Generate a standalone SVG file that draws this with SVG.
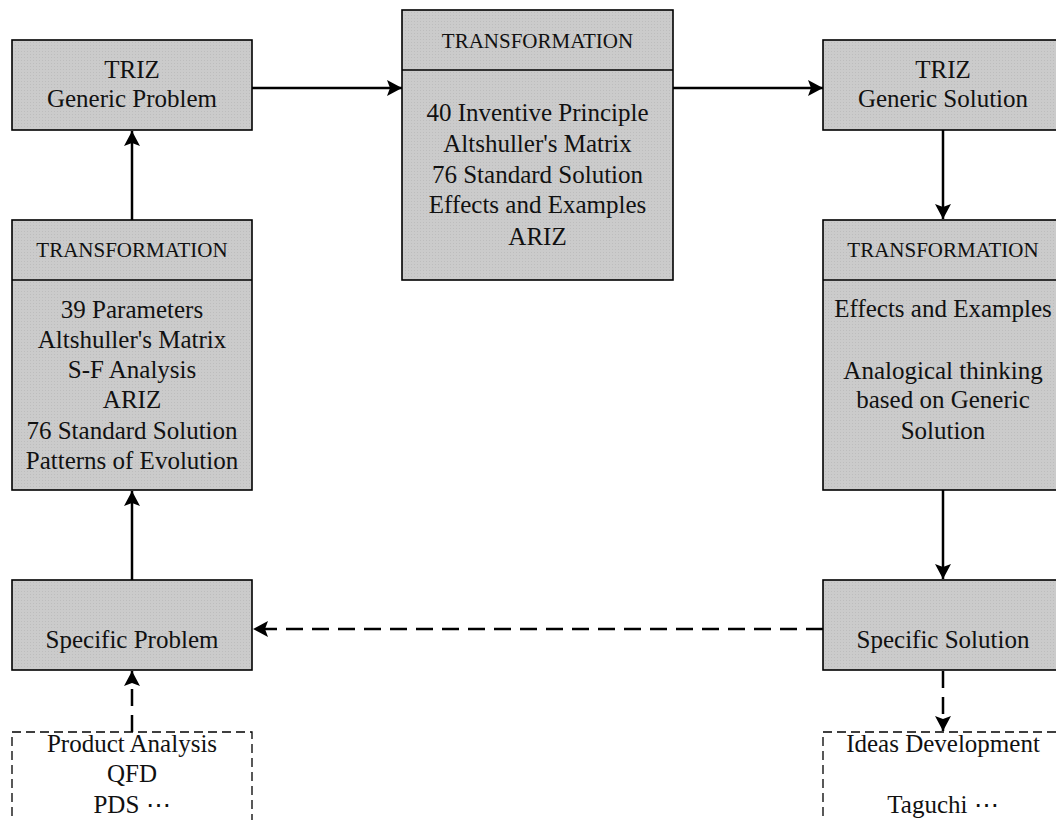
<svg xmlns="http://www.w3.org/2000/svg" width="1056" height="820" viewBox="0 0 1056 820">
<defs>
<pattern id="tex" width="3" height="3" patternUnits="userSpaceOnUse">
<rect width="3" height="3" fill="#cbcbcb"/>
<rect width="1" height="1" fill="#bdbdbd"/>
</pattern>
<marker id="ah" viewBox="0 0 15 16" refX="15" refY="8" markerWidth="15" markerHeight="16" markerUnits="userSpaceOnUse" orient="auto">
<path d="M0,0 L15,8 L0,16 L3,8 Z" fill="#000"/>
</marker>
<style>
.box{fill:url(#tex);stroke:#000;stroke-width:1.6}
.dbox{fill:none;stroke:#000;stroke-width:1.3;stroke-dasharray:9 5}
.t{font-family:"Liberation Serif","Times New Roman",serif;font-size:25px;fill:#111;text-anchor:middle}
.h{font-family:"Liberation Serif","Times New Roman",serif;font-size:21px;fill:#111;text-anchor:middle}
.c{stroke:#000;stroke-width:2.5;fill:none;marker-end:url(#ah)}
.cd{stroke:#000;stroke-width:2.5;fill:none;stroke-dasharray:17 9;marker-end:url(#ah)}
</style>
</defs>
<g id="connectors">
<line class="c" x1="252" y1="88" x2="402" y2="88"/>
<line class="c" x1="673" y1="88" x2="823" y2="88"/>
<line class="c" x1="132" y1="220" x2="132" y2="131"/>
<line class="c" x1="943" y1="130" x2="943" y2="219"/>
<line class="c" x1="132" y1="580" x2="132" y2="491"/>
<line class="c" x1="943" y1="490" x2="943" y2="579"/>
<line class="cd" x1="823" y1="629" x2="253" y2="629"/>
<line class="cd" x1="132" y1="732" x2="132" y2="671" stroke-dasharray="19 10 40"/>
<line class="cd" x1="943" y1="671" x2="943" y2="731" stroke-dasharray="19 12 40"/>
</g>
<g id="generic-problem">
<rect class="box" x="12" y="40" width="240" height="90"/>
<text class="t" x="132" y="78">TRIZ</text>
<text class="t" x="132" y="107">Generic Problem</text>
</g>
<g id="transformation-middle">
<rect class="box" x="402" y="10" width="271" height="270"/>
<line x1="402" y1="70" x2="673" y2="70" stroke="#000" stroke-width="1.6"/>
<text class="h" x="537.5" y="48">TRANSFORMATION</text>
<text class="t" x="537.5" y="121">40 Inventive Principle</text>
<text class="t" x="537.5" y="152">Altshuller's Matrix</text>
<text class="t" x="537.5" y="183">76 Standard Solution</text>
<text class="t" x="537.5" y="213">Effects and Examples</text>
<text class="t" x="537.5" y="245">ARIZ</text>
</g>
<g id="generic-solution">
<rect class="box" x="823" y="40" width="240" height="90"/>
<text class="t" x="943" y="78">TRIZ</text>
<text class="t" x="943" y="107">Generic Solution</text>
</g>
<g id="transformation-left">
<rect class="box" x="12" y="220" width="240" height="270"/>
<line x1="12" y1="280" x2="252" y2="280" stroke="#000" stroke-width="1.6"/>
<text class="h" x="132" y="257">TRANSFORMATION</text>
<text class="t" x="132" y="318">39 Parameters</text>
<text class="t" x="132" y="348">Altshuller's Matrix</text>
<text class="t" x="132" y="378">S-F Analysis</text>
<text class="t" x="132" y="408">ARIZ</text>
<text class="t" x="132" y="439">76 Standard Solution</text>
<text class="t" x="132" y="469">Patterns of Evolution</text>
</g>
<g id="transformation-right">
<rect class="box" x="823" y="220" width="240" height="270"/>
<line x1="823" y1="280" x2="1063" y2="280" stroke="#000" stroke-width="1.6"/>
<text class="h" x="943" y="257">TRANSFORMATION</text>
<text class="t" x="943" y="317">Effects and Examples</text>
<text class="t" x="943" y="379">Analogical thinking</text>
<text class="t" x="943" y="408">based on Generic</text>
<text class="t" x="943" y="439">Solution</text>
</g>
<g id="specific-problem">
<rect class="box" x="12" y="580" width="240" height="90"/>
<text class="t" x="132" y="648">Specific Problem</text>
</g>
<g id="specific-solution">
<rect class="box" x="823" y="580" width="240" height="90"/>
<text class="t" x="943" y="648">Specific Solution</text>
</g>
<g id="problem-tools">
<rect class="dbox" x="12" y="732" width="240" height="110"/>
<text class="t" x="132" y="752">Product Analysis</text>
<text class="t" x="132" y="782">QFD</text>
<text class="t" x="132" y="813">PDS ⋯</text>
</g>
<g id="solution-tools">
<rect class="dbox" x="823" y="732" width="240" height="110"/>
<text class="t" x="943" y="752">Ideas Development</text>
<text class="t" x="943" y="813">Taguchi ⋯</text>
</g>
</svg>
